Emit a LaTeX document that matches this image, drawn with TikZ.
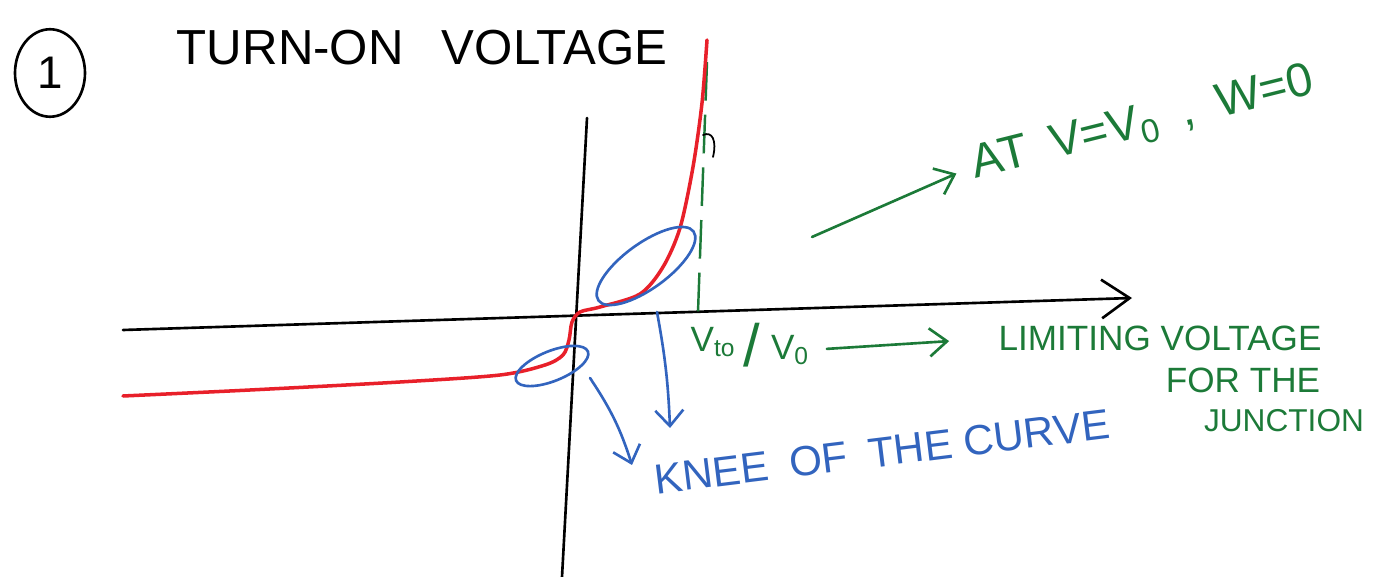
\documentclass[tikz,border=0pt]{standalone}
\usepackage{fontspec}
\setmainfont{Liberation Sans}
\usetikzlibrary{arrows.meta,shapes.geometric}
\definecolor{inkRed}{RGB}{232,32,42}
\definecolor{inkBlue}{RGB}{50,100,190}
\definecolor{inkGreen}{RGB}{28,122,56}
\tikzset{
  axisLine/.style={draw=black,line width=1.5pt,line cap=round},
  kneeLoop/.style={ellipse,draw=inkBlue,line width=1.5pt,inner sep=0pt},
  blueNote/.style={text=inkBlue,font=\fontsize{24}{28}\selectfont,inner sep=0pt},
  greenNote/.style={text=inkGreen,font=\fontsize{20}{24}\selectfont,inner sep=0pt},
  blueArrow/.style={draw=inkBlue,line width=1.5pt,line cap=round,-{Straight Barb[length=9pt,width=16pt]}},
  greenArrow/.style={draw=inkGreen,line width=1.5pt,line cap=round,-{Straight Barb[length=10pt,width=16pt]}}
}

\begin{document}
\begin{tikzpicture}[x=0.02cm,y=-0.02cm]
  \useasboundingbox (0,0) rectangle (1373,577);
  % heading
  \node[ellipse,draw,line width=1.5pt,minimum width=1.4cm,minimum height=1.75cm,inner sep=0pt,font=\fontsize{26}{30}\selectfont] (num) at (50,73) {1};
  \node[font=\fontsize{28}{32}\selectfont,inner sep=0pt] (title) at (422,48) {TURN-ON\enspace\ VOLTAGE};
  % axes
  \coordinate (xl) at (123,330);
  \coordinate (xr) at (1132,298);
  \coordinate (yt) at (587,118);
  \coordinate (yb) at (562,577);
  \draw[axisLine,-{Straight Barb[length=16pt,width=22pt]}] (xl) -- (xr);
  \draw[axisLine] (yt) -- (yb);
  % limit line at V0
  \draw[inkGreen,line width=1.4pt,dash pattern=on 22pt off 8pt] (707,62) -- (698,312);
  \draw[line width=1pt,line cap=round] (703,135) .. controls (712,131) and (717,140) .. (713,157);
  % diode curve
  \draw[inkRed,line width=2pt,line cap=round] plot[smooth] coordinates {
    (123,396) (250,390) (400,382) (500,375) (545,365) (563,355) (569,340)
    (572,322) (580,312) (600,307) (640,294) (663,267) (680,228) (693,167)
    (702,103) (707,40)};
  % knees
  \node[kneeLoop,rotate=36,minimum width=2.35cm,minimum height=0.9cm] (kneeHi) at (646,266) {};
  \node[kneeLoop,rotate=22,minimum width=1.55cm,minimum height=0.6cm] (kneeLo) at (552,366) {};
  \node[blueNote,rotate=7] (knee) at (882,452) {KNEE\enspace OF\enspace THE CURVE};
  \coordinate (loTail) at (590,378);
  \coordinate (loHead) at (632,465);
  \coordinate (hiTail) at (657,312);
  \coordinate (hiHead) at (670,428);
  \draw[blueArrow] (loTail) to[bend left=8] (loHead);
  \draw[blueArrow] (hiTail) to[bend left=4] (hiHead);
  % voltage labels
  \node[greenNote] (vto) at (713,342) {V\textsubscript{to}};
  \node[greenNote,font=\fontsize{34}{40}\selectfont] (slash) at (752,345) {/};
  \node[greenNote] (v0) at (790,350) {V\textsubscript{0}};
  \node[greenNote] (lim1) at (1160,338) {LIMITING VOLTAGE};
  \node[greenNote] (lim2) at (1243,380) {FOR THE};
  \node[greenNote,font=\fontsize{18}{22}\selectfont] (lim3) at (1284,421) {JUNCTION};
  \draw[greenArrow,shorten <=10pt,shorten >=28pt] (v0.east) -- (lim1.west);
  \node[greenNote,font=\fontsize{27}{32}\selectfont,rotate=14] (atNote) at (1143,124) {AT\enspace V=V\textsubscript{0}\enspace ,\enspace W=0};
  \coordinate (atTail) at (812,237);
  \draw[greenArrow,shorten >=10pt] (atTail) -- (atNote.west);
\end{tikzpicture}
\end{document}
